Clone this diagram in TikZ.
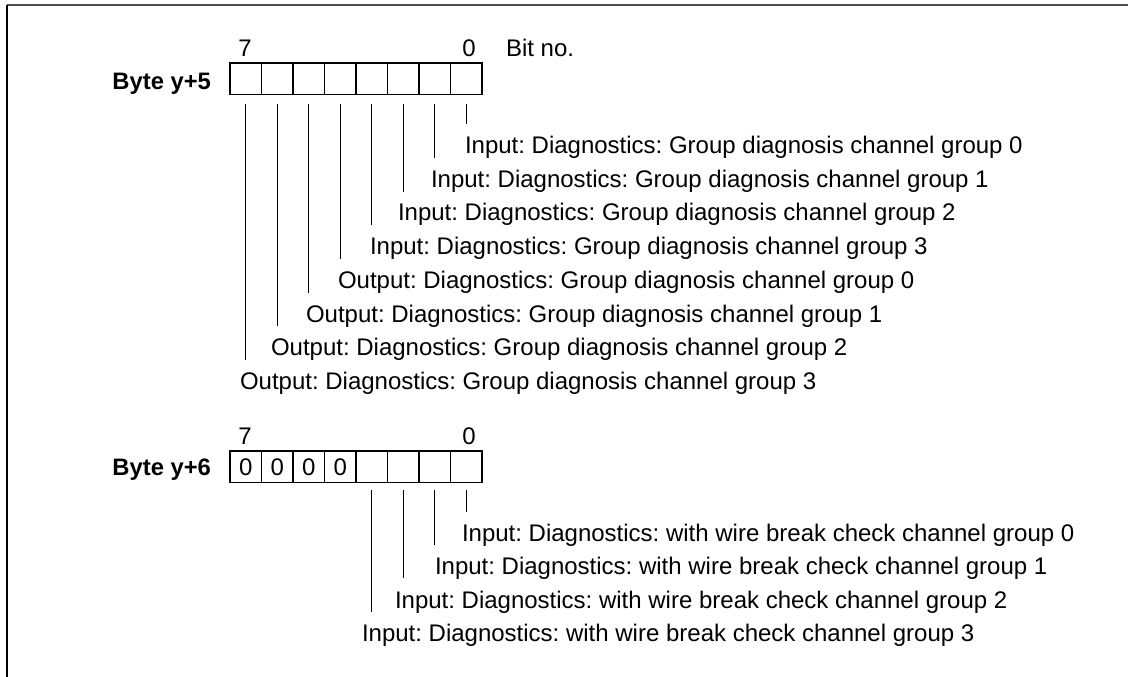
\documentclass[tikz,border=0pt]{standalone}
\usepackage{fontspec}
\setmainfont{Liberation Sans}
\frenchspacing
\begin{document}
\begin{tikzpicture}[x=1pt,y=-1pt,
  txt/.style={inner sep=0pt, outer sep=0pt, font=\fontsize{24}{28}\selectfont},
  bitcell/.style={draw, line width=1.1pt, minimum width=31.5pt, minimum height=31.5pt,
    inner sep=0pt, outer sep=0pt, txt, anchor=center},
  lbl/.style={txt, anchor=base west},
  leader/.style={line width=1pt}]
\useasboundingbox (0,0) rectangle (1128,677);

% frame
\draw[line width=1.6pt, black!70] (1128,5) -- (7,5);
\draw[line width=1.6pt] (7,5) -- (7,677);

% ---------- Byte y+5 ----------
\node[txt, anchor=base east, font=\fontsize{23.8}{28}\selectfont\bfseries] (byteA) at (211,89.5) {Byte y+5};
\foreach \k in {0,...,7}
  \node[bitcell] (a\k) at ({245.75+31.5*(7-\k)},78.75) {};
\node[txt, anchor=base] (a7n) at (245,56.5) {7};
\node[txt, anchor=base] (a0n) at (469,56.5) {0};
\node[lbl] (bitno) at (506,56.5) {Bit no.};

\node[lbl] (la0) at (465,153.5) {Input: Diagnostics: Group diagnosis channel group 0};
\node[lbl] (la1) at (431,187.2) {Input: Diagnostics: Group diagnosis channel group 1};
\node[lbl] (la2) at (398,220.9) {Input: Diagnostics: Group diagnosis channel group 2};
\node[lbl] (la3) at (370,254.6) {Input: Diagnostics: Group diagnosis channel group 3};
\node[lbl] (la4) at (338,288.3) {Output: Diagnostics: Group diagnosis channel group 0};
\node[lbl] (la5) at (306,322.0) {Output: Diagnostics: Group diagnosis channel group 1};
\node[lbl] (la6) at (271,355.7) {Output: Diagnostics: Group diagnosis channel group 2};
\node[lbl] (la7) at (240,389.4) {Output: Diagnostics: Group diagnosis channel group 3};

\foreach \k in {0,...,7}
  \draw[leader] ([yshift=-9.5pt]a\k.south) -- ([yshift=12pt]a\k.south |- la\k.north);

% ---------- Byte y+6 ----------
\node[txt, anchor=base east, font=\fontsize{23.8}{28}\selectfont\bfseries] (byteB) at (211,475.5) {Byte y+6};
\foreach \k/\v in {7/0,6/0,5/0,4/0,3/,2/,1/,0/}
  \node[bitcell] (b\k) at ({245.75+31.5*(7-\k)},466.75) {\v};
\node[txt, anchor=base] (b7n) at (245,444.5) {7};
\node[txt, anchor=base] (b0n) at (469,444.5) {0};

\node[lbl] (lb0) at (462,541.5) {Input: Diagnostics: with wire break check channel group 0};
\node[lbl] (lb1) at (435,574.8) {Input: Diagnostics: with wire break check channel group 1};
\node[lbl] (lb2) at (395,608.1) {Input: Diagnostics: with wire break check channel group 2};
\node[lbl] (lb3) at (362,641.4) {Input: Diagnostics: with wire break check channel group 3};

\foreach \k in {0,...,3}
  \draw[leader] ([yshift=-7pt]b\k.south) -- ([yshift=12.5pt]b\k.south |- lb\k.north);
\end{tikzpicture}
\end{document}
